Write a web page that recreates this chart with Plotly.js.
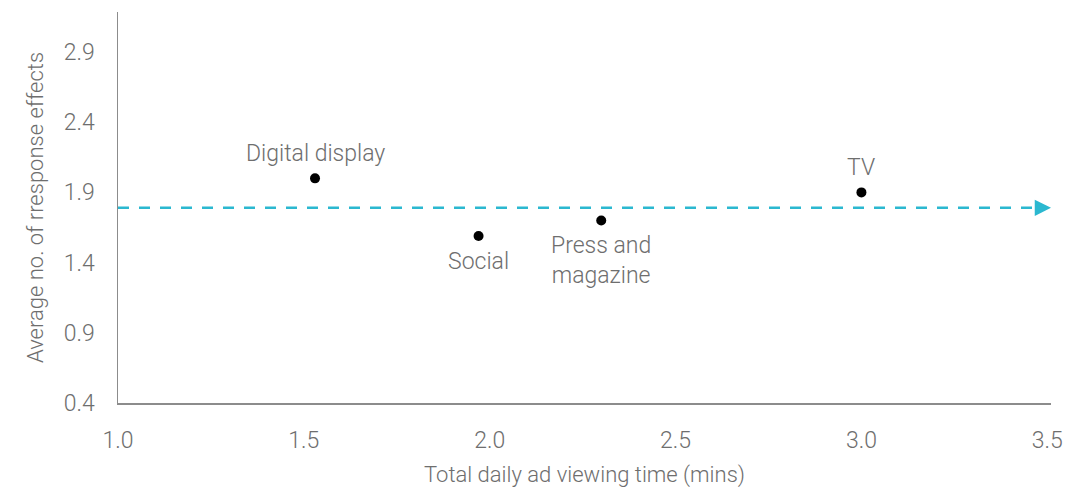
<!DOCTYPE html>
<html>
<head>
<meta charset="utf-8">
<script src="https://cdn.plot.ly/plotly-3.0.1.min.js"></script>
<style>html,body{margin:0;padding:0;background:#fff;}#chart{width:1081px;height:488px;}</style>
</head>
<body>
<div id="chart"></div>
<script>
// Data
const channels = ["Digital display", "Social", "Press and<br>magazine", "TV"];
const viewingTime = [1.53, 1.97, 2.30, 3.00];
const responseEffects = [2.00, 1.59, 1.70, 1.90];
const labelAbove = [true, false, false, true];
const averageEffects = 1.79;
const averageLineX = [1.0, 3.47];
const arrowTipX = 3.51;
const yTicks = [0.4, 0.9, 1.4, 1.9, 2.4, 2.9];
const xTicks = [1.0, 1.5, 2.0, 2.5, 3.0, 3.5];

const FONT = "Roboto, 'Liberation Sans', Arial, sans-serif";
const GREY = "#6e6e6e";
const TEAL = "#2bb8d0";

const traces = [
  {
    type: "scatter",
    mode: "lines",
    x: averageLineX,
    y: averageLineX.map(() => averageEffects),
    line: { color: TEAL, width: 2.5, dash: "11px,10px" },
    hoverinfo: "skip",
    showlegend: false
  },
  {
    type: "scatter",
    mode: "markers",
    x: viewingTime,
    y: responseEffects,
    marker: { color: "#000", size: 10 },
    cliponaxis: false,
    showlegend: false
  }
];

const labelAnnotations = channels.map((name, i) => ({
  x: viewingTime[i],
  y: responseEffects[i],
  xref: "x",
  yref: "y",
  text: name,
  showarrow: false,
  xanchor: "center",
  yanchor: labelAbove[i] ? "bottom" : "top",
  yshift: labelAbove[i] ? 9 : -10,
  font: { family: FONT, size: 23, color: GREY, weight: 300 }
}));

const layout = {
  width: 1081,
  height: 488,
  margin: { l: 118, r: 30, t: 12, b: 85 },
  paper_bgcolor: "#fff",
  plot_bgcolor: "#fff",
  font: { family: FONT, color: GREY, size: 22, weight: 300 },
  showlegend: false,
  xaxis: {
    range: [1.0, 3.51],
    tickvals: xTicks,
    ticktext: xTicks.map(v => v.toFixed(1)),
    showgrid: false,
    zeroline: false,
    showline: true,
    linecolor: "#8c8c8c",
    linewidth: 1.5,
    ticks: "",
    ticklabelstandoff: 16,
    tickfont: { family: FONT, size: 23, color: GREY, weight: 300 },
    title: { text: "Total daily ad viewing time (mins)", font: { family: FONT, size: 22, color: GREY, weight: 300 }, standoff: 14 }
  },
  yaxis: {
    range: [0.4, 3.185],
    tickvals: yTicks,
    ticktext: yTicks.map(v => v.toFixed(1)),
    showgrid: false,
    zeroline: false,
    showline: true,
    linecolor: "#8c8c8c",
    linewidth: 1.5,
    ticks: "",
    ticklabelstandoff: 17,
    tickfont: { family: FONT, size: 23, color: GREY, weight: 300 },
    title: { text: "Average no. of rresponse effects", font: { family: FONT, size: 22, color: GREY, weight: 300 }, standoff: 14 }
  },
  annotations: labelAnnotations.concat([
    {
      x: arrowTipX,
      y: averageEffects,
      xref: "x",
      yref: "y",
      text: "",
      showarrow: true,
      ax: -16,
      ay: 0,
      arrowhead: 2,
      arrowsize: 1.3,
      arrowwidth: 2.5,
      arrowcolor: TEAL
    }
  ])
};

Plotly.newPlot("chart", traces, layout, { displayModeBar: false, staticPlot: true });
</script>
</body>
</html>
